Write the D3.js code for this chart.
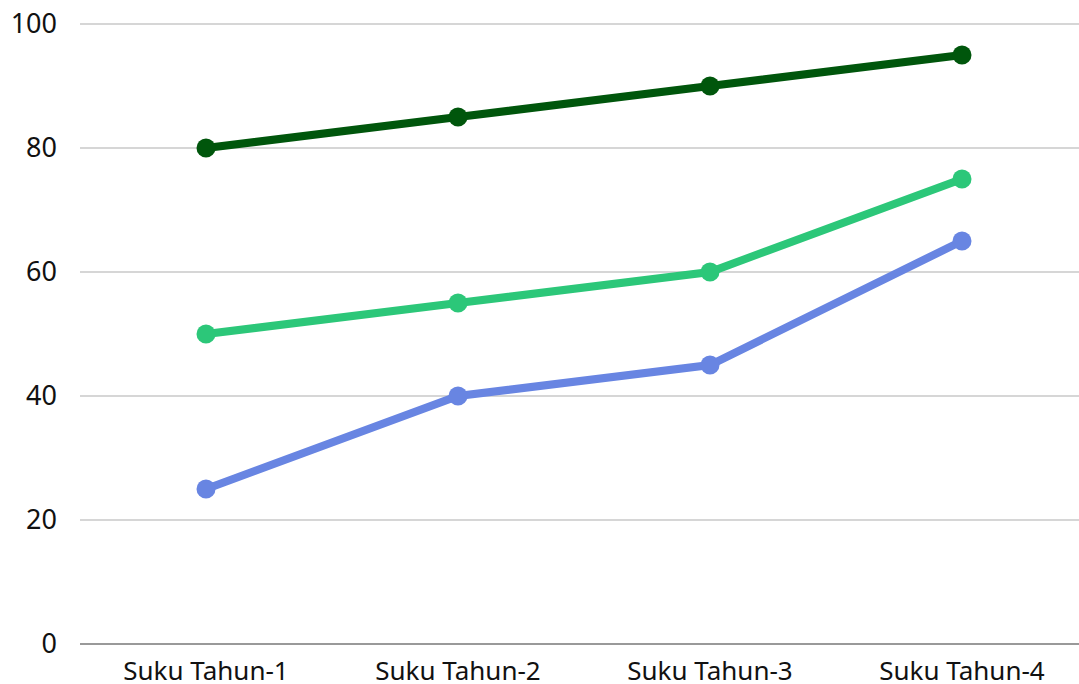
<!DOCTYPE html>
<html>
<head>
<meta charset="utf-8">
<script src="https://cdn.jsdelivr.net/npm/d3@7"></script>
<style>
    body { margin: 0; background: #fff; }
    svg { display: block; }
</style>
</head>
<body>
<div id="chart"></div>
<script>
const categories = ['Suku Tahun-1', 'Suku Tahun-2', 'Suku Tahun-3', 'Suku Tahun-4'];
const seriesNames = ['Tinggi', 'Sedang', 'Rendah'];
const seriesTop = [80, 85, 90, 95];
const seriesMid = [50, 55, 60, 75];
const seriesLow = [25, 40, 45, 65];
const yTicks = [0, 20, 40, 60, 80, 100];
const colors = ['#00560c', '#2cc779', '#6885e2'];

const width = 1079;
const height = 684;
const margin = { top: 24, right: 0, bottom: 40, left: 80 };

const svg = d3.select('#chart')
    .append('svg')
    .attr('width', width)
    .attr('height', height);

const x = d3.scaleBand()
    .domain(categories)
    .range([margin.left, margin.left + 4 * 252]);

const y = d3.scaleLinear()
    .domain([0, 100])
    .range([height - margin.bottom, margin.top]);

const font = '"Noto Sans", "IBM Plex Sans", sans-serif';

// gridlines
svg.append('g')
    .selectAll('line')
    .data(yTicks.filter(d => d > 0))
    .enter()
    .append('line')
    .attr('x1', margin.left)
    .attr('x2', width)
    .attr('y1', d => y(d))
    .attr('y2', d => y(d))
    .attr('stroke', '#c8c8c8')
    .attr('stroke-width', 1.5);

// y axis labels
svg.append('g')
    .selectAll('text')
    .data(yTicks)
    .enter()
    .append('text')
    .attr('x', 57)
    .attr('y', d => y(d))
    .attr('dy', '0.35em')
    .attr('text-anchor', 'end')
    .style('font-family', font)
    .style('font-size', '27px')
    .style('fill', '#111')
    .text(d => d);

// x axis baseline
svg.append('line')
    .attr('x1', margin.left)
    .attr('x2', width)
    .attr('y1', y(0))
    .attr('y2', y(0))
    .attr('stroke', '#777')
    .attr('stroke-width', 1.5);

svg.append('g')
    .selectAll('text')
    .data(categories)
    .enter()
    .append('text')
    .attr('x', d => x(d) + x.bandwidth() / 2)
    .attr('y', 680)
    .attr('text-anchor', 'middle')
    .style('font-family', font)
    .style('font-size', '26px')
    .style('fill', '#111')
    .text(d => d);

const series = [seriesTop, seriesMid, seriesLow];

const line = d3.line()
    .x((d, i) => x(categories[i]) + x.bandwidth() / 2)
    .y(d => y(d));

// draw bottom series first so the dark line sits on top
series.slice().reverse().forEach((values, ri) => {
    const idx = series.length - 1 - ri;
    const g = svg.append('g').attr('class', 'series-' + seriesNames[idx]);
    g.append('path')
        .datum(values)
        .attr('d', line)
        .attr('fill', 'none')
        .attr('stroke', colors[idx])
        .attr('stroke-width', 8);
    g.selectAll('circle')
        .data(values)
        .enter()
        .append('circle')
        .attr('cx', (d, i) => x(categories[i]) + x.bandwidth() / 2)
        .attr('cy', d => y(d))
        .attr('r', 9.5)
        .attr('fill', colors[idx]);
});
</script>
</body>
</html>
